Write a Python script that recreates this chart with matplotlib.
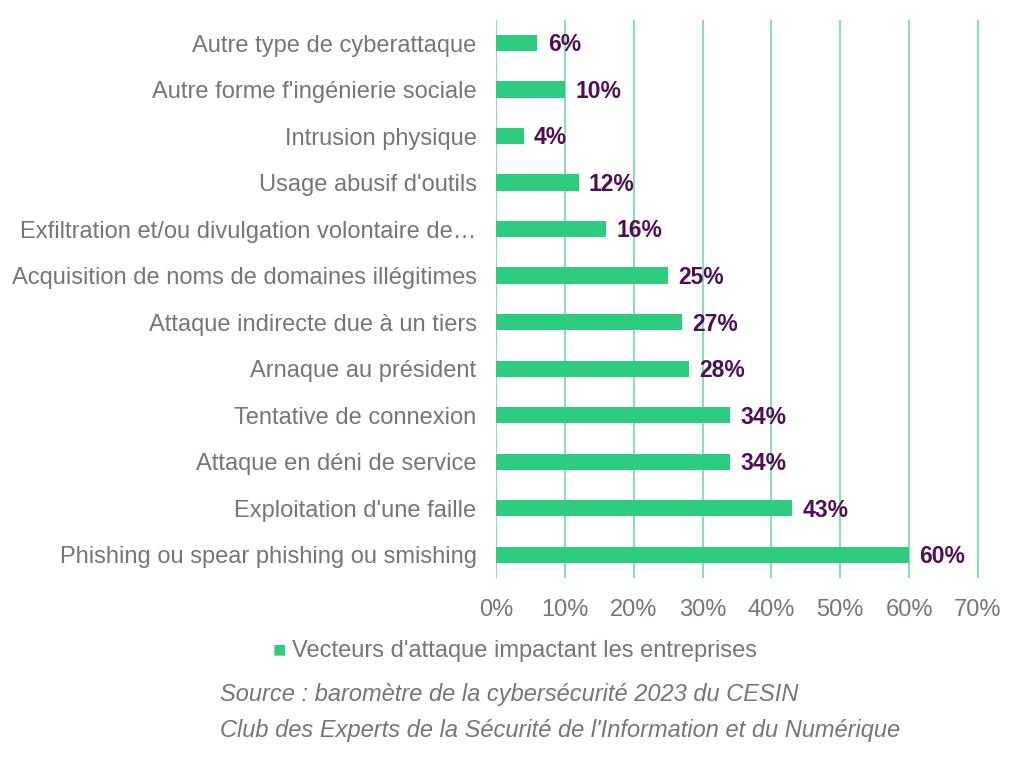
import matplotlib.pyplot as plt
import numpy as np

plt.rcParams['font.family'] = ['Liberation Sans', 'DejaVu Sans']

categories = [
    "Phishing ou spear phishing ou smishing",
    "Exploitation d'une faille",
    "Attaque en déni de service",
    "Tentative de connexion",
    "Arnaque au président",
    "Attaque indirecte due à un tiers",
    "Acquisition de noms de domaines illégitimes",
    "Exfiltration et/ou divulgation volontaire de\u2026",
    "Usage abusif d'outils",
    "Intrusion physique",
    "Autre forme f'ingénierie sociale",
    "Autre type de cyberattaque",
]
values = [60, 43, 34, 34, 28, 27, 25, 16, 12, 4, 10, 6]
xticks = [0, 10, 20, 30, 40, 50, 60, 70]

green = "#2ecc80"
grid_green = "#6edca4"
gray = "#7a7479"
purple = "#4f0f57"

fig = plt.figure(figsize=(10.24, 7.61), dpi=100)
ax = fig.add_axes([0.4844, 0.2405, 0.4720, 0.7335])

y = np.arange(len(categories))
ax.barh(y, values, height=0.35, color=green, zorder=3)
for yi, v in zip(y, values):
    ax.text(v + 1.5, yi - 0.04, f"{v}%", va='center', ha='left', color=purple,
            fontsize=16.5, fontweight='bold', zorder=4)

ax.set_xlim(0, 70.2)
ax.set_ylim(-0.5, 11.5)
ax.set_yticks(y)
ax.set_yticklabels(categories, fontsize=17, color=gray)
ax.set_xticks(xticks)
ax.set_xticklabels([f"{t}%" for t in xticks], fontsize=17, color=gray)
ax.tick_params(axis='both', length=0)
ax.tick_params(axis='y', pad=14)
ax.tick_params(axis='x', pad=15)
for s in ax.spines.values():
    s.set_visible(False)
ax.grid(axis='x', color=grid_green, linewidth=1.2, zorder=0)

fig.text(273 / 1024, 1 - 651 / 761, "\u25a0", color=green, fontsize=16, va='center', ha='left')
fig.text(292 / 1024, 1 - 651 / 761, "Vecteurs d'attaque impactant les entreprises",
         color=gray, fontsize=17, va='center', ha='left')

fig.text(220 / 1024, 1 - 695 / 761, "Source : baromètre de la cybersécurité 2023 du CESIN",
         color=gray, fontsize=17, style='italic', va='center', ha='left')
fig.text(220 / 1024, 1 - 731 / 761,
         "Club des Experts de la Sécurité de l'Information et du Numérique",
         color=gray, fontsize=17, style='italic', va='center', ha='left')

fig.savefig("out.png", dpi=100)
